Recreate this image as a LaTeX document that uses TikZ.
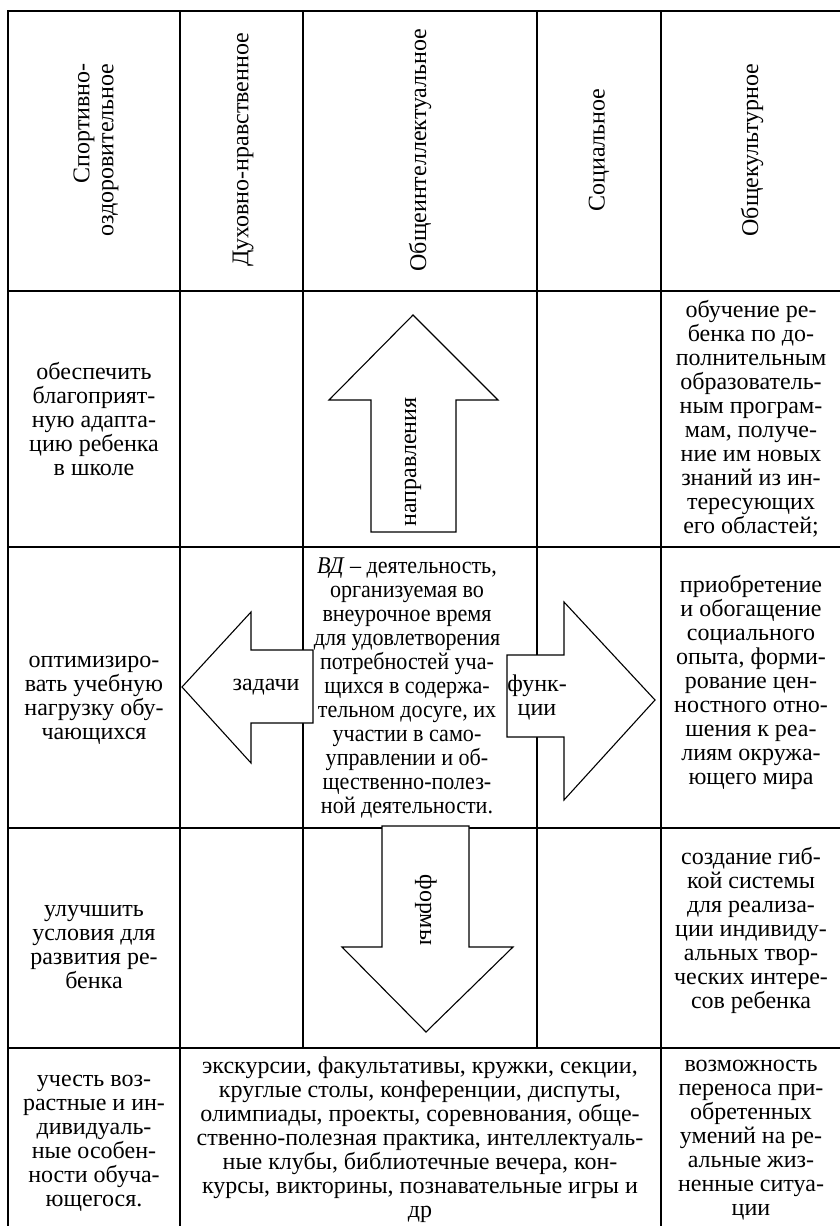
\documentclass[tikz,border=0pt]{standalone}
\usepackage{fontspec}
\setmainfont{Liberation Serif}
\newfontfamily\narrowserif[FakeStretch=0.92]{Liberation Serif}
\usepackage{tikz}

\begin{document}
\begin{tikzpicture}[x=1pt, y=-1pt,
        cell/.style={inner sep=0pt, align=center, font=\fontsize{24}{24}\selectfont},
        narrowcell/.style={cell, font=\narrowserif\fontsize{24}{24}\selectfont},
        hdr/.style={inner sep=0pt, align=center, rotate=90, font=\fontsize{24}{24}\selectfont},
        grid/.style={line width=1.7pt},
        blockarrow/.style={draw, fill=white, line width=1.1pt, line join=miter}]
        \useasboundingbox (0,0) rectangle (840,1226);
        \draw[grid] (8,11) rectangle (842,1236);
        \draw[grid] (8,291) -- (842,291);
        \draw[grid] (8,547) -- (842,547);
        \draw[grid] (8,828) -- (842,828);
        \draw[grid] (8,1048) -- (842,1048);
        \draw[grid] (180,11) -- (180,1236);
        \draw[grid] (303,11) -- (303,1048);
        \draw[grid] (537,11) -- (537,1048);
        \draw[grid] (661,11) -- (661,1236);
        \node[hdr, align=right] (hdrsport) at (96,150) {Спортивно-\\оздоровительное};
        \node[hdr] (hdrdukh) at (243,150) {Духовно-нравственное};
        \node[hdr] (hdrobshint) at (420,150) {Общеинтеллектуальное};
        \node[hdr] (hdrsoc) at (599,150) {Социальное};
        \node[hdr] (hdrobshkult) at (752,150) {Общекультурное};
        \draw[blockarrow] (371,532) -- (371,400) -- (329,400) -- (413,315) -- (498,400) -- (456,400) -- (456,532) -- cycle;
        \draw[blockarrow] (313,650) -- (251,650) -- (251,612) -- (182,687) -- (251,763) -- (251,723) -- (313,723) -- cycle;
        \draw[blockarrow] (507,655) -- (564,655) -- (564,602) -- (655,700) -- (564,800) -- (564,737) -- (507,737) -- cycle;
        \draw[blockarrow] (382,826) -- (469,826) -- (469,947) -- (513,947) -- (426,1032) -- (342,947) -- (382,947) -- cycle;
        \node[hdr] (lblnapr) at (413,462) {направления};
        \node[cell] (lblzad) at (266,687) {задачи};
        \node[cell] (lblfunk) at (537,697) {функ-\\ции};
        \node[hdr, rotate=180] (lblform) at (426,910) {формы};
        \node[cell] (zadadapt) at (94,419) {обеспечить\\благоприят-\\ную адапта-\\цию ребенка\\в школе};
        \node[cell] (zadopt) at (94,700) {оптимизиро-\\вать учебную\\нагрузку обу-\\чающихся};
        \node[cell] (zaduslov) at (94,947) {улучшить\\условия для\\развития ре-\\бенка};
        \node[cell] (zaduchet) at (94,1143) {учесть воз-\\растные и ин-\\дивидуаль-\\ные особен-\\ности обуча-\\ющегося.};
        \node[narrowcell] (vdtext) at (407,688) {\textit{ВД} – деятельность,\\организуемая во\\внеурочное время\\для удовлетворения\\потребностей уча-\\щихся в содержа-\\тельном досуге, их\\участии в само-\\управлении и об-\\щественно-полез-\\ной деятельности.};
        \node[cell] (formtext) at (420,1140) {экскурсии, факультативы, кружки, секции,\\круглые столы, конференции, диспуты,\\олимпиады, проекты, соревнования, обще-\\ственно-полезная практика, интеллектуаль-\\ные клубы, библиотечные вечера, кон-\\курсы, викторины, познавательные игры и\\др};
        \node[cell] (funkobuch) at (751,419) {обучение ре-\\бенка по до-\\полнительным\\образователь-\\ным програм-\\мам, получе-\\ние им новых\\знаний из ин-\\тересующих\\его областей;};
        \node[cell] (funkopyt) at (751,682) {приобретение\\и обогащение\\социального\\опыта, форми-\\рование цен-\\ностного отно-\\шения к реа-\\лиям окружа-\\ющего мира};
        \node[cell] (funksist) at (751,930) {создание гиб-\\кой системы\\для реализа-\\ции индивиду-\\альных твор-\\ческих интере-\\сов ребенка};
        \node[cell] (funkperenos) at (751,1140) {возможность\\переноса при-\\обретенных\\умений на ре-\\альные жиз-\\ненные ситуа-\\ции};
\end{tikzpicture}
\end{document}
